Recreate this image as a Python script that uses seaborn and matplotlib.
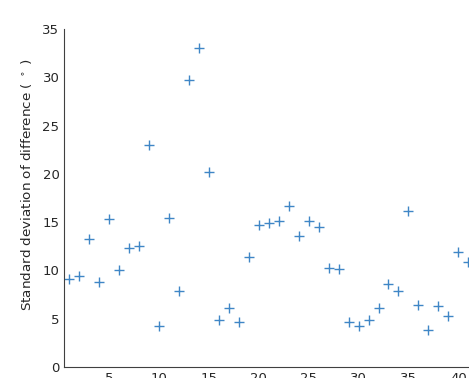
import numpy as np
import pandas as pd
import matplotlib
matplotlib.use("Agg")
import matplotlib.pyplot as plt
import seaborn as sns

# du lieu doc tu hinh
index = list(range(1, 42))
std_diff = [9.1, 9.4, 13.3, 8.8, 15.3, 10.0, 12.3, 12.5, 23.0, 4.2,
            15.4, 7.9, 29.7, 33.0, 20.2, 4.9, 6.1, 4.7, 11.4, 14.7,
            14.9, 15.1, 16.7, 13.6, 15.1, 14.5, 10.3, 10.2, 4.7, 4.2,
            4.9, 6.1, 8.6, 7.9, 16.2, 6.4, 3.8, 6.3, 5.3, 11.9, 10.9]
yticks = [0, 5, 10, 15, 20, 25, 30, 35]
xticks = [5, 10, 15, 20, 25, 30, 35, 40]

df = pd.DataFrame({"idx": index, "std": std_diff})

sns.set_style("white")
plt.rcParams["font.family"] = ["DejaVu Sans"]

fig = plt.figure(figsize=(4.69, 3.78), dpi=100)
ax = fig.add_axes([0.137, 0.029, 0.87, 0.894])

sns.scatterplot(data=df, x="idx", y="std", marker="+", s=45,
                color="#3f86c6", linewidth=1.0, ax=ax)

ax.set_xlim(0.5, 41.4)
ax.set_ylim(0, 35)
ax.set_xticks(xticks)
ax.set_yticks(yticks)
ax.set_xlabel("")
ax.set_ylabel("Standard deviation of difference ( $^\\circ$ )", fontsize=9.7, color="#262626")
ax.yaxis.set_label_coords(-0.074, 0.541)
ax.tick_params(direction="in", length=4, labelsize=9.5, colors="#262626", width=0.8)

sns.despine(ax=ax)
for s in ["left", "bottom"]:
    ax.spines[s].set_color("#404040")
    ax.spines[s].set_linewidth(0.8)

fig.savefig("out.png", dpi=100)
